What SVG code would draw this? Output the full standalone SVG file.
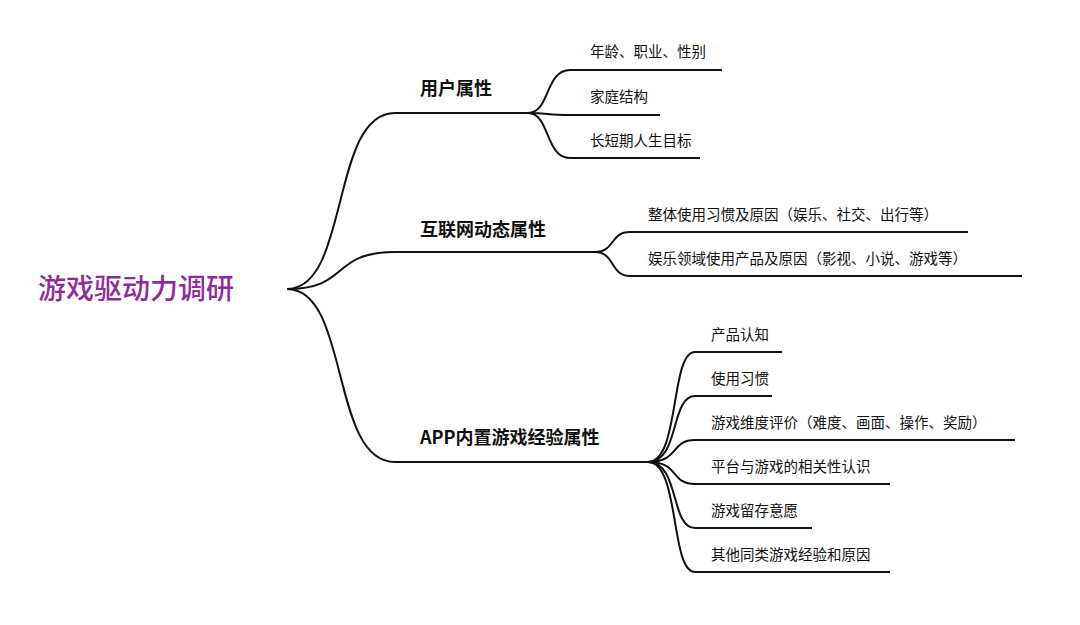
<svg xmlns="http://www.w3.org/2000/svg" width="1080" height="625" viewBox="0 0 1080 625">
<style>
.c{fill:none;stroke:#111;stroke-width:2}
.t1{font-family:"Noto Sans CJK SC",sans-serif;font-size:18px;font-weight:600;fill:#111}
.t2{font-family:"Noto Sans CJK SC",sans-serif;font-size:14.5px;fill:#111}
</style>
<rect width="1080" height="625" fill="#fff"/>
<g id="connectors">
<path class="c" d="M287 289 C350 289 330 113 395 113 H528"/>
<path class="c" d="M287 289 C350 289 330 252 395 252 H595"/>
<path class="c" d="M287 289 C350 289 330 462 395 462 H648"/>
<path class="c" d="M528 113 C550 113 545 70 570 70 H722"/>
<path class="c" d="M528 113 C550 113 545 115 570 115 H660"/>
<path class="c" d="M528 113 C550 113 545 158 570 158 H700"/>
<path class="c" d="M595 252 C615 252 610 232 630 232 H968"/>
<path class="c" d="M595 252 C615 252 610 276 630 276 H1022"/>
<path class="c" d="M648 462 C680 462 670 352 695 352 H782"/>
<path class="c" d="M648 462 C680 462 670 396 695 396 H772"/>
<path class="c" d="M648 462 C680 462 670 440 695 440 H1015"/>
<path class="c" d="M648 462 C680 462 670 484 695 484 H890"/>
<path class="c" d="M648 462 C680 462 670 528 695 528 H812"/>
<path class="c" d="M648 462 C680 462 670 572 695 572 H890"/>
</g>
<g id="root"><text x="38" y="299" font-family="Noto Sans CJK SC,sans-serif" font-size="28" font-weight="500" fill="#8e2c9a">游戏驱动力调研</text></g>
<g id="n1"><text class="t1" x="420" y="95">用户属性</text></g>
<g id="n2"><text class="t1" x="420" y="236">互联网动态属性</text></g>
<g id="n3"><text class="t1" x="420" y="444">APP内置游戏经验属性</text></g>
<g id="n1a"><text class="t2" x="590" y="57">年龄、职业、性别</text></g>
<g id="n1b"><text class="t2" x="590" y="102">家庭结构</text></g>
<g id="n1c"><text class="t2" x="590" y="146">长短期人生目标</text></g>
<g id="n2a"><text class="t2" x="648" y="220">整体使用习惯及原因（娱乐、社交、出行等）</text></g>
<g id="n2b"><text class="t2" x="648" y="264">娱乐领域使用产品及原因（影视、小说、游戏等）</text></g>
<g id="n3a"><text class="t2" x="711" y="340">产品认知</text></g>
<g id="n3b"><text class="t2" x="711" y="384">使用习惯</text></g>
<g id="n3c"><text class="t2" x="711" y="428">游戏维度评价（难度、画面、操作、奖励）</text></g>
<g id="n3d"><text class="t2" x="711" y="472">平台与游戏的相关性认识</text></g>
<g id="n3e"><text class="t2" x="711" y="516">游戏留存意愿</text></g>
<g id="n3f"><text class="t2" x="711" y="560">其他同类游戏经验和原因</text></g>
</svg>
